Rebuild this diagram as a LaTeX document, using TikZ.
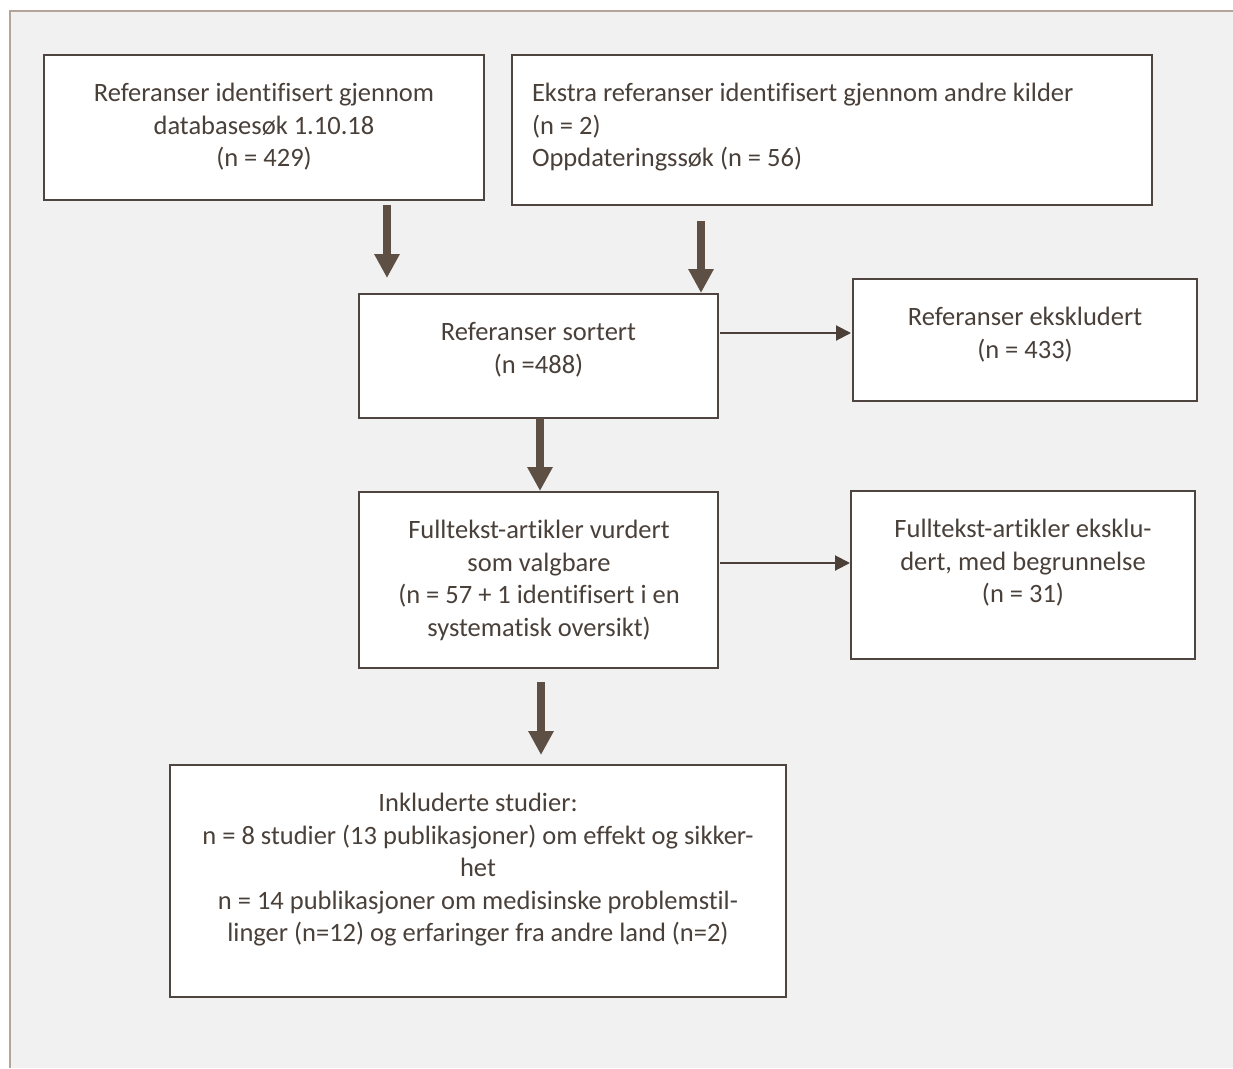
\documentclass[tikz,border=0pt]{standalone}
\usepackage{fontspec}
\setmainfont[Ligatures=CommonOff]{Carlito}
\usetikzlibrary{arrows.meta}
\definecolor{bggray}{HTML}{F1F1F1}
\definecolor{frametan}{HTML}{B5A49A}
\definecolor{boxline}{HTML}{4F4540}
\definecolor{txtc}{HTML}{4A403A}
\definecolor{fatc}{HTML}{5E4F44}
\definecolor{thinc}{HTML}{4B3F37}
\tikzset{
  box/.style={draw=boxline, line width=2pt, fill=white, inner sep=0pt, outer sep=0pt},
  txt/.style={text=txtc, inner sep=0pt, outer sep=0pt, font=\fontsize{26.5}{32.5}\selectfont},
  fat/.style={draw=fatc, line width=8pt, -{Triangle[width=24pt,length=24pt]}},
  thin/.style={draw=thinc, line width=2pt, -{Triangle[width=15pt,length=15pt]}}
}
\newcommand{\fl}{\rule{0pt}{22pt}}
\begin{document}
\begin{tikzpicture}[x=1pt,y=-1pt]
\useasboundingbox (0,0) rectangle (1233,1068);
\fill[white] (0,0) rectangle (1233,1068);
\fill[bggray] (10,11) rectangle (1233,1068);
\draw[frametan, line width=2pt] (10,1068) -- (10,11) -- (1233,11);

\node[box, minimum width=440, minimum height=145] (b1) at (264,127.5) {};
\node[box, minimum width=640, minimum height=150] (b2) at (832,130) {};
\node[box, minimum width=359, minimum height=124] (b3) at (538.5,356) {};
\node[box, minimum width=344, minimum height=122] (b4) at (1025,340) {};
\node[box, minimum width=359, minimum height=176] (b5) at (538.5,580) {};
\node[box, minimum width=344, minimum height=168] (b6) at (1023,575) {};
\node[box, minimum width=616, minimum height=232] (b7) at (478,881) {};

\node[txt, align=center, anchor=north] (t1) at (264,79.5) {\fl Referanser identifisert gjennom\\databasesøk 1.10.18\\(n = 429)};
\node[txt, align=left, anchor=north west] (t2) at (532,79.5) {\fl Ekstra referanser identifisert gjennom andre kilder\\(n = 2)\\Oppdateringssøk (n = 56)};
\node[txt, align=center, anchor=north] (t3) at (538.5,318.5) {\fl Referanser sortert\\(n =488)};
\node[txt, align=center, anchor=north] (t4) at (1025,303.5) {\fl Referanser ekskludert\\(n = 433)};
\node[txt, align=center, anchor=north] (t5) at (539,516.5) {\fl Fulltekst-artikler vurdert\\som valgbare\\(n = 57 + 1 identifisert i en\\systematisk oversikt)};
\node[txt, align=center, anchor=north] (t6) at (1023,515.5) {\fl Fulltekst-artikler eksklu-\\dert, med begrunnelse\\(n = 31)};
\node[txt, align=center, anchor=north] (t7) at (478,789.5) {\fl Inkluderte studier:\\n = 8 studier (13 publikasjoner) om effekt og sikker-\\het\\n = 14 publikasjoner om medisinske problemstil-\\linger (n=12) og erfaringer fra andre land (n=2)};

\draw[fat] ([shift={(123,5)}]b1.south) -- ([shift={(-151.5,-16)}]b3.north);
\draw[fat] ([shift={(-131,16)}]b2.south) -- ([shift={(162.5,-1)}]b3.north);
\draw[fat] ([shift={(1.5,0)}]b3.south) -- ([shift={(1.5,-1)}]b5.north);
\draw[fat] ([shift={(2.5,14)}]b5.south) -- ([shift={(63,-10)}]b7.north);
\draw[thin] ([shift={(2,-23)}]b3.east) -- ([shift={(-2,-7)}]b4.west);
\draw[thin] ([shift={(2,-17)}]b5.east) -- ([shift={(-1,-12)}]b6.west);
\end{tikzpicture}
\end{document}
